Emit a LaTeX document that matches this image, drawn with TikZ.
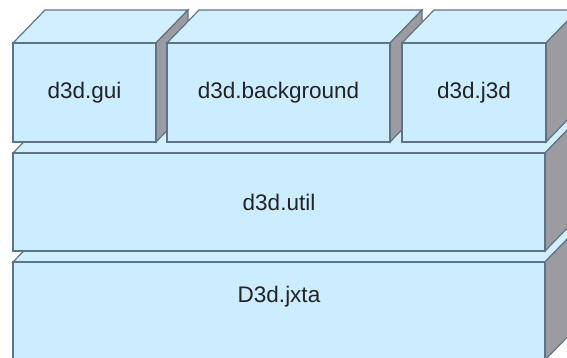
\documentclass[tikz,border=0pt]{standalone}
\usepackage{fontspec}
\setmainfont{Liberation Sans}
\definecolor{frontblue}{RGB}{204,236,255}
\definecolor{topblue}{RGB}{210,239,255}
\definecolor{sidegray}{RGB}{156,156,160}
\definecolor{edgecol}{RGB}{95,115,135}
\definecolor{txtcol}{RGB}{35,35,35}
\tikzset{
  face/.style={draw=edgecol, line width=1.2pt, line join=miter},
  topface/.style={face, fill=topblue},
  sideface/.style={face, fill=sidegray},
  frontface/.style={face, fill=frontblue, inner sep=0pt, outer sep=0pt, anchor=north west,
     font=\fontsize{22.5}{26}\selectfont, text=txtcol},
  lbl/.style={inner sep=0pt, font=\fontsize{22.5}{26}\selectfont, text=txtcol}
}
\newcommand\layerbox[6]{%
  \draw[topface] (#2,#3) -- (#2+32,#3-33) -- (#4+32,#3-33) -- (#4,#3) -- cycle;
  \draw[sideface] (#4,#3) -- (#4+32,#3-33) -- (#4+32,#5-33) -- (#4,#5) -- cycle;
  \node[frontface, minimum width={(#4-#2)*1pt}, minimum height={(#5-#3)*1pt}] (#1) at (#2,#3) {#6};
}
\begin{document}
\begin{tikzpicture}[x=1pt,y=-1pt]
\useasboundingbox (0,0) rectangle (567,358);
\clip (0,0) rectangle (567,358);
\layerbox{jxta}{13}{262}{545}{360}{}
\node[lbl] (jxtalabel) at (279,297) {D3d.jxta};
\layerbox{util}{13}{153}{545}{251}{d3d.util}
\layerbox{gui}{13}{43}{156}{142}{d3d.gui}
\layerbox{bg}{167}{43}{390}{142}{d3d.background}
\layerbox{jtd}{402}{43}{546}{142}{d3d.j3d}
\end{tikzpicture}
\end{document}
